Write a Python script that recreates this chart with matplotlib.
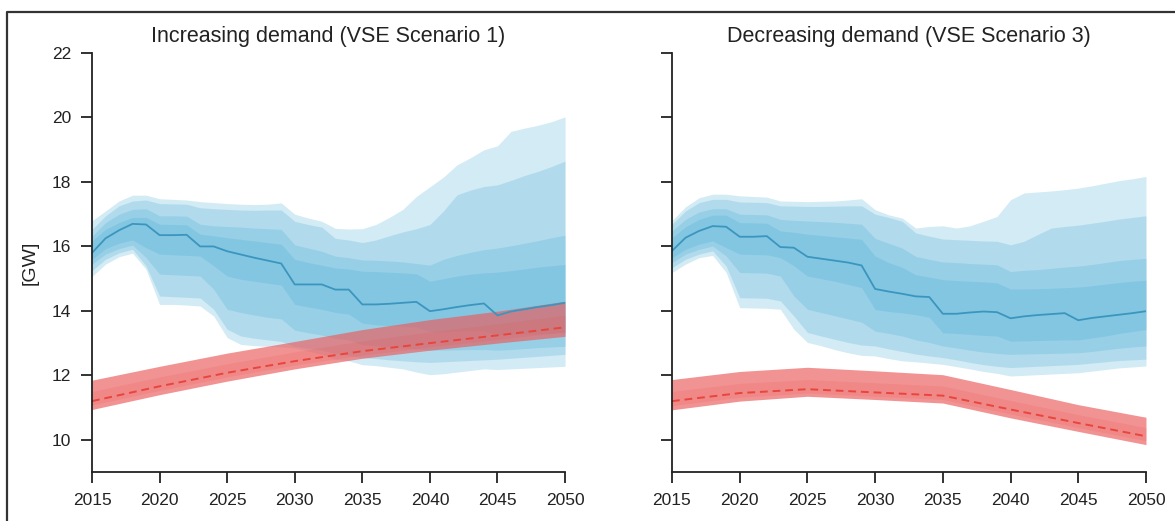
import numpy as np
import matplotlib
matplotlib.use("Agg")
import matplotlib.pyplot as plt
from matplotlib.lines import Line2D

plt.rcParams['font.family'] = ['Liberation Sans', 'DejaVu Sans']

# Roky simulácie
years = np.arange(2015, 2051)
red_years = [2015, 2020, 2025, 2030, 2035, 2040, 2045, 2050]

# --- Scenár 1 (rastúci dopyt) ---
s1_median = [15.8, 16.25, 16.5, 16.7, 16.68, 16.35, 16.35, 16.36, 16.0, 16.0,
             15.85, 15.75, 15.65, 15.56, 15.47, 14.82, 14.82, 14.82, 14.66, 14.66,
             14.2, 14.2, 14.22, 14.25, 14.28, 13.99, 14.05, 14.12, 14.18, 14.23,
             13.86, 13.98, 14.05, 14.12, 14.18, 14.25]
s1_up1 = [16.8, 17.1, 17.41, 17.59, 17.59, 17.48, 17.46, 17.44, 17.39, 17.36,
          17.33, 17.31, 17.3, 17.31, 17.35, 17.0, 16.88, 16.78, 16.56, 16.54,
          16.55, 16.68, 16.9, 17.15, 17.55, 17.85, 18.15, 18.53, 18.75, 19.0,
          19.12, 19.57, 19.67, 19.76, 19.87, 20.02]
s1_up2 = [16.53, 16.95, 17.26, 17.41, 17.44, 17.33, 17.32, 17.31, 17.2, 17.17,
          17.15, 17.13, 17.12, 17.13, 17.13, 16.78, 16.68, 16.6, 16.25, 16.2,
          16.12, 16.2, 16.33, 16.45, 16.55, 16.68, 17.1, 17.6, 17.75, 17.86,
          17.91, 18.05, 18.2, 18.33, 18.48, 18.65]
s1_up3 = [16.32, 16.74, 17.0, 17.15, 17.17, 16.95, 16.95, 16.94, 16.69, 16.64,
          16.62, 16.6, 16.57, 16.55, 16.53, 16.05, 15.95, 15.85, 15.7, 15.65,
          15.58, 15.57, 15.55, 15.52, 15.47, 15.42, 15.6, 15.72, 15.82, 15.9,
          15.95, 16.02, 16.1, 16.18, 16.27, 16.35]
s1_up4 = [16.17, 16.53, 16.74, 16.9, 16.9, 16.69, 16.68, 16.67, 16.38, 16.33,
          16.27, 16.22, 16.17, 16.12, 16.07, 15.6, 15.5, 15.42, 15.33, 15.3,
          15.23, 15.22, 15.2, 15.18, 15.15, 14.92, 15.0, 15.08, 15.14, 15.18,
          15.2, 15.25, 15.3, 15.36, 15.4, 15.44]
s1_lo4 = [15.6, 15.93, 16.1, 16.2, 15.96, 15.76, 15.74, 15.72, 15.7, 15.4,
          15.08, 14.98, 14.92, 14.86, 14.8, 14.2, 14.12, 14.05, 13.95, 13.9,
          13.62, 13.57, 13.54, 13.52, 13.5, 13.35, 13.36, 13.37, 13.38, 13.38,
          13.25, 13.27, 13.28, 13.29, 13.3, 13.32]
s1_lo3 = [15.45, 15.76, 15.93, 16.04, 15.65, 15.14, 15.12, 15.1, 15.08, 14.67,
          14.05, 13.95, 13.87, 13.8, 13.75, 13.4, 13.32, 13.25, 13.15, 13.1,
          12.95, 12.92, 12.88, 12.85, 12.82, 12.78, 12.78, 12.79, 12.8, 12.8,
          12.78, 12.8, 12.83, 12.86, 12.88, 12.9]
s1_lo2 = [15.25, 15.6, 15.8, 15.91, 15.39, 14.46, 14.44, 14.42, 14.4, 14.05,
          13.43, 13.22, 13.15, 13.1, 13.05, 12.9, 12.84, 12.78, 12.68, 12.62,
          12.55, 12.52, 12.48, 12.45, 12.42, 12.4, 12.42, 12.44, 12.46, 12.48,
          12.5, 12.53, 12.56, 12.59, 12.62, 12.65]
s1_lo1 = [15.07, 15.45, 15.68, 15.79, 15.29, 14.2, 14.2, 14.18, 14.15, 13.84,
          13.17, 12.96, 12.92, 12.9, 12.88, 12.85, 12.75, 12.65, 12.5, 12.45,
          12.33, 12.3, 12.25, 12.2, 12.1, 12.02, 12.05, 12.1, 12.15, 12.2,
          12.18, 12.2, 12.22, 12.24, 12.26, 12.28]

s1_demand = [11.2, 11.66, 12.08, 12.44, 12.75, 13.0, 13.24, 13.49]
s1_demand_hi = [11.85, 12.28, 12.69, 13.05, 13.42, 13.73, 13.99, 14.3]
s1_demand_lo = [10.94, 11.4, 11.82, 12.2, 12.53, 12.78, 13.0, 13.21]
s1_demand_ihi = [11.5, 11.95, 12.36, 12.73, 13.07, 13.35, 13.6, 13.87]
s1_demand_ilo = [11.08, 11.53, 11.95, 12.32, 12.63, 12.88, 13.11, 13.35]

# --- Scenár 3 (klesajúci dopyt) ---
s3_median = [15.86, 16.27, 16.48, 16.63, 16.61, 16.3, 16.3, 16.32, 15.98, 15.96,
             15.68, 15.62, 15.56, 15.5, 15.41, 14.68, 14.6, 14.53, 14.45, 14.43,
             13.91, 13.91, 13.95, 13.98, 13.96, 13.77, 13.83, 13.87, 13.9, 13.93,
             13.71, 13.78, 13.83, 13.88, 13.93, 13.99]
s3_up1 = [16.8, 17.23, 17.51, 17.62, 17.62, 17.57, 17.55, 17.53, 17.41, 17.4,
          17.39, 17.4, 17.41, 17.44, 17.48, 17.14, 16.98, 16.88, 16.57, 16.62,
          16.64, 16.57, 16.64, 16.78, 16.93, 17.45, 17.66, 17.69, 17.72, 17.76,
          17.81, 17.88, 17.96, 18.04, 18.1, 18.17]
s3_up2 = [16.69, 17.1, 17.36, 17.46, 17.46, 17.38, 17.37, 17.36, 17.26, 17.25,
          17.24, 17.24, 17.25, 17.26, 17.26, 17.0, 16.9, 16.78, 16.42, 16.32,
          16.23, 16.21, 16.19, 16.17, 16.16, 16.05, 16.16, 16.37, 16.57, 16.62,
          16.66, 16.72, 16.78, 16.85, 16.9, 16.95]
s3_up3 = [16.48, 16.84, 17.07, 17.17, 17.17, 17.0, 16.99, 16.98, 16.84, 16.81,
          16.79, 16.77, 16.75, 16.72, 16.69, 16.25, 16.1, 15.95, 15.69, 15.6,
          15.52, 15.5, 15.47, 15.45, 15.43, 15.22, 15.26, 15.28, 15.32, 15.36,
          15.39, 15.44, 15.5, 15.56, 15.6, 15.63]
s3_up4 = [16.27, 16.61, 16.84, 16.97, 16.97, 16.74, 16.73, 16.72, 16.48, 16.44,
          16.38, 16.34, 16.3, 16.26, 16.22, 15.7, 15.5, 15.35, 15.12, 15.05,
          14.97, 14.94, 14.92, 14.9, 14.87, 14.68, 14.68, 14.69, 14.7, 14.72,
          14.74, 14.78, 14.83, 14.88, 14.92, 14.95]
s3_lo4 = [15.65, 15.91, 16.07, 16.17, 15.96, 15.76, 15.75, 15.74, 15.65, 15.4,
          15.08, 15.0, 14.92, 14.82, 14.72, 14.04, 13.98, 13.94, 13.88, 13.8,
          13.32, 13.3, 13.27, 13.24, 13.22, 13.06, 13.07, 13.08, 13.09, 13.1,
          13.1, 13.16, 13.22, 13.3, 13.36, 13.42]
s3_lo3 = [15.5, 15.76, 15.91, 16.01, 15.7, 15.19, 15.18, 15.17, 15.08, 14.46,
          14.05, 13.95, 13.85, 13.75, 13.65, 13.37, 13.3, 13.22, 13.1, 13.02,
          12.91, 12.85, 12.78, 12.72, 12.68, 12.65, 12.66, 12.67, 12.68, 12.69,
          12.7, 12.74, 12.79, 12.84, 12.88, 12.91]
s3_lo2 = [15.34, 15.6, 15.76, 15.86, 15.39, 14.41, 14.4, 14.39, 14.31, 13.84,
          13.33, 13.22, 13.12, 13.02, 12.94, 12.91, 12.82, 12.74, 12.66, 12.6,
          12.55, 12.48, 12.4, 12.33, 12.28, 12.24, 12.26, 12.28, 12.3, 12.32,
          12.34, 12.38, 12.42, 12.46, 12.48, 12.5]
s3_lo1 = [15.19, 15.45, 15.65, 15.72, 15.19, 14.1, 14.09, 14.08, 14.05, 13.43,
          13.02, 12.92, 12.8, 12.7, 12.62, 12.6, 12.52, 12.45, 12.42, 12.38,
          12.34, 12.27, 12.2, 12.12, 12.06, 11.98, 12.0, 12.02, 12.04, 12.06,
          12.08, 12.13, 12.18, 12.23, 12.26, 12.29]

s3_demand = [11.2, 11.45, 11.57, 11.47, 11.37, 10.94, 10.52, 10.11]
s3_demand_hi = [11.87, 12.12, 12.25, 12.14, 12.02, 11.56, 11.09, 10.7]
s3_demand_lo = [10.93, 11.2, 11.35, 11.25, 11.14, 10.68, 10.26, 9.85]
s3_demand_ihi = [11.5, 11.75, 11.87, 11.77, 11.67, 11.22, 10.78, 10.38]
s3_demand_ilo = [11.06, 11.32, 11.45, 11.35, 11.25, 10.8, 10.38, 9.97]

titles = ["Increasing demand (VSE Scenario 1)", "Decreasing demand (VSE Scenario 3)"]

panels = [
    (s1_median, [(s1_lo1, s1_up1), (s1_lo2, s1_up2), (s1_lo3, s1_up3), (s1_lo4, s1_up4)],
     s1_demand, s1_demand_lo, s1_demand_hi, s1_demand_ilo, s1_demand_ihi),
    (s3_median, [(s3_lo1, s3_up1), (s3_lo2, s3_up2), (s3_lo3, s3_up3), (s3_lo4, s3_up4)],
     s3_demand, s3_demand_lo, s3_demand_hi, s3_demand_ilo, s3_demand_ihi),
]

fig = plt.figure(figsize=(11.75, 5.21), dpi=100)
ax1 = fig.add_axes([0.0783, 0.094, 0.4026, 0.8042])
ax2 = fig.add_axes([0.5719, 0.094, 0.4034, 0.8042])

for ax, title, (med, bands, dem, dem_lo, dem_hi, dem_ilo, dem_ihi) in zip([ax1, ax2], titles, panels):
    # pásma neistoty kapacity - každé ďalšie pásmo tmavšie
    for lo, hi in bands:
        ax.fill_between(years, lo, hi, color='#44aad3', alpha=0.23, linewidth=0)
    # dopyt
    ax.fill_between(red_years, dem_lo, dem_hi, color='#ec5c5c', alpha=0.66, linewidth=0)
    ax.fill_between(red_years, dem_ilo, dem_ihi, color='#e85050', alpha=0.16, linewidth=0)
    ax.plot(years, med, color='#3b96bf', linewidth=1.3)
    ax.plot(red_years, dem, color='#e8453c', linewidth=1.4, linestyle=(0, (4, 2.5)))

    ax.set_xlim(2015, 2050)
    ax.set_ylim(9, 22)
    ax.set_xticks(range(2015, 2051, 5))
    ax.set_yticks(range(10, 23, 2))
    ax.set_title(title, fontsize=15.5, pad=8, color='#222222')
    ax.spines['top'].set_visible(False)
    ax.spines['right'].set_visible(False)
    for s in ['left', 'bottom']:
        ax.spines[s].set_linewidth(1.3)
        ax.spines[s].set_color('#222222')
    ax.tick_params(direction='out', length=8, width=1.3, pad=7, colors='#222222',
                   labelsize=12.5, labelcolor='#222222')

ax1.set_ylabel("[GW]", fontsize=14, color='#222222')
ax1.yaxis.set_label_coords(-0.112, 0.5)
ax2.tick_params(labelleft=False)

# rámček okolo obrázka
fig.add_artist(Line2D([0.006, 0.006, 1.0], [0.0, 0.977, 0.977],
                      transform=fig.transFigure, color='#333333', linewidth=1.6))

fig.savefig("out.png", dpi=100)
